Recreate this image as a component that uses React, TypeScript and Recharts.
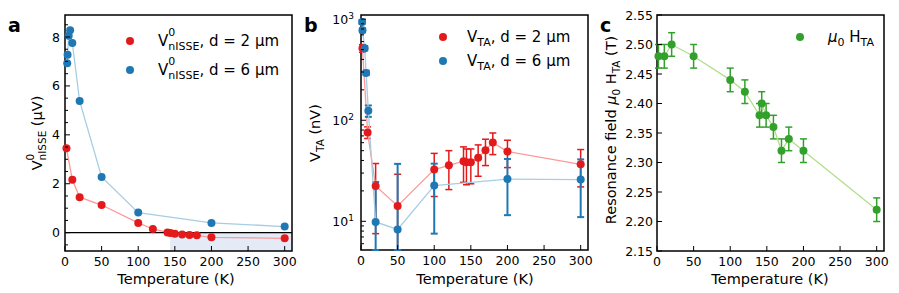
import { ErrorBar, Line, LineChart, ReferenceArea, ReferenceLine, XAxis, YAxis } from "recharts";

const FONT = "'DejaVu Sans', Verdana, sans-serif";

const RED = "#e31a1c";
const RED_LINE = "#fb9a99";
const BLUE = "#1f78b4";
const BLUE_LINE = "#a6cee3";
const GREEN = "#33a02c";
const GREEN_LINE = "#b2df8a";

// panel a: V0_nISSE (µV) vs temperature
const tempA2 = [2, 10, 20, 50, 100, 120, 140, 144, 150, 160, 170, 180, 200, 300];
const voltA2 = [3.45, 2.16, 1.45, 1.13, 0.4, 0.15, 0.01, -0.01, -0.04, -0.08, -0.1, -0.11, -0.19, -0.23];
const tempA6 = [3, 3.5, 5, 7, 10, 20, 50, 100, 200, 300];
const voltA6 = [6.93, 7.27, 8.05, 8.28, 7.76, 5.38, 2.28, 0.82, 0.4, 0.25];

// panel b: V_TA (nV), with lower / upper error bounds (5.2 = runs off the bottom)
const tempB2 = [2, 9, 20, 50, 100, 120, 140, 144, 150, 160, 170, 180, 200, 300];
const vtaB2 = [515, 75.5, 22.4, 14.2, 32.5, 35.8, 39.3, 38.5, 38.5, 42.6, 50.5, 60.1, 49, 36.6];
const lowB2 = [470, 66, 7.55, 5.2, 17.6, 20.6, 24.3, 23, 23.5, 27.9, 35.6, 45.7, 34, 21.9];
const highB2 = [560, 86, 37.3, 29.2, 47, 50, 54.5, 52, 52, 57, 64.9, 74.8, 63.4, 51.3];
const tempB6 = [1.5, 2, 5, 7, 10, 20, 50, 100, 200, 300];
const vtaB6 = [940, 778, 515, 294, 124, 9.85, 8.3, 22.6, 26.2, 25.9];
const lowB6 = [900, 740, 490, 280, 108, 5.2, 5.2, 7.55, 11.5, 11];
const highB6 = [980, 815, 540, 310, 140, 24.5, 37, 37.2, 41.4, 41];

// panel c: resonance field (T)
const tempC = [2, 10, 20, 50, 100, 120, 140, 143, 149, 159, 170, 180, 200, 300];
const fieldC = [2.48, 2.48, 2.5, 2.48, 2.44, 2.42, 2.38, 2.4, 2.38, 2.36, 2.32, 2.34, 2.32, 2.22];
const fieldErrC = [0.02, 0.02, 0.02, 0.02, 0.02, 0.02, 0.02, 0.02, 0.02, 0.02, 0.02, 0.02, 0.02, 0.02];

// ticks
const tempTicks = [0, 50, 100, 150, 200, 250, 300];
const ticksA = [-0.5, 0, 0.5, 1, 1.5, 2, 2.5, 3, 3.5, 4, 4.5, 5, 5.5, 6, 6.5, 7, 7.5, 8, 8.5];
const majorA = [0, 2, 4, 6, 8];
const ticksB = [6, 7, 8, 9, 10, 20, 30, 40, 50, 60, 70, 80, 90, 100, 200, 300, 400, 500, 600, 700, 800, 900, 1000];
const ticksC = [2.15, 2.2, 2.25, 2.3, 2.35, 2.4, 2.45, 2.5, 2.55];

const rowsA2 = tempA2.map((T, i) => ({ T, v: voltA2[i] }));
const rowsA6 = tempA6.map((T, i) => ({ T, v: voltA6[i] }));
const rowsB2 = tempB2.map((T, i) => ({ T, v: vtaB2[i], err: [vtaB2[i] - lowB2[i], highB2[i] - vtaB2[i]] }));
const rowsB6 = tempB6.map((T, i) => ({ T, v: vtaB6[i], err: [vtaB6[i] - lowB6[i], highB6[i] - vtaB6[i]] }));
const rowsC = tempC.map((T, i) => ({ T, v: fieldC[i], err: fieldErrC[i] }));

const tickText = { fontFamily: FONT, fontSize: 12.5, fill: "#000" };

const xTick = (p: any) => (
  <g>
    <line x1={p.x} x2={p.x} y1={p.y} y2={p.y - 5} stroke="#000" />
    <text x={p.x} y={p.y + 15} textAnchor="middle" {...tickText}>
      {p.payload.value}
    </text>
  </g>
);

const yTickA = (p: any) => {
  const v = p.payload.value;
  const major = majorA.includes(v);
  return (
    <g>
      <line x1={p.x} x2={p.x + (major ? 5 : 3)} y1={p.y} y2={p.y} stroke="#000" />
      {major && (
        <text x={p.x - 5} y={p.y} dy="0.36em" textAnchor="end" {...tickText}>
          {v}
        </text>
      )}
    </g>
  );
};

const yTickB = (p: any) => {
  const v = p.payload.value;
  const exp = Math.log10(v);
  const major = Math.abs(exp - Math.round(exp)) < 1e-9;
  return (
    <g>
      <line x1={p.x} x2={p.x + (major ? 5 : 3)} y1={p.y} y2={p.y} stroke="#000" />
      {major && (
        <text x={p.x - 7} y={p.y} dy="0.36em" textAnchor="end" {...tickText}>
          10
          <tspan dy={-5} fontSize={9}>
            {Math.round(exp)}
          </tspan>
        </text>
      )}
    </g>
  );
};

const yTickC = (p: any) => (
  <g>
    <line x1={p.x} x2={p.x + 5} y1={p.y} y2={p.y} stroke="#000" />
    <text x={p.x - 4} y={p.y} dy="0.36em" textAnchor="end" {...tickText}>
      {p.payload.value.toFixed(2)}
    </text>
  </g>
);

const AXIS_H = 30;
const AXIS_W = 50;

function xAxisProps() {
  return {
    dataKey: "T",
    type: "number" as const,
    domain: [0, 310],
    allowDataOverflow: true,
    ticks: tempTicks,
    interval: 0 as const,
    tick: xTick,
    tickLine: false,
    axisLine: false,
    tickSize: 0,
    tickMargin: 0,
    height: AXIS_H,
  };
}

const dotStyle = (fill: string) => ({ r: 4, fill, stroke: "none", fillOpacity: 1, clipDot: false });

function PanelA() {
  return (
    <LineChart width={300} height={293} margin={{ top: 15, right: 8, bottom: 42 - AXIS_H, left: 65 - AXIS_W }}>
      <XAxis {...xAxisProps()} />
      <YAxis
        type="number"
        domain={[-0.75, 8.9]}
        allowDataOverflow
        ticks={ticksA}
        interval={0}
        tick={yTickA}
        tickLine={false}
        axisLine={false}
        tickSize={0}
        tickMargin={0}
        width={AXIS_W}
      />
      <ReferenceArea x1={143.5} x2={310} y1={-0.75} y2={0} fill="#e4eaf6" fillOpacity={1} stroke="none" />
      <ReferenceLine y={0} stroke="#000" strokeWidth={1.3} />
      <Line data={rowsA2} dataKey="v" type="linear" stroke={RED_LINE} strokeWidth={1.3} dot={dotStyle(RED)} activeDot={false} isAnimationActive={false} />
      <Line data={rowsA6} dataKey="v" type="linear" stroke={BLUE_LINE} strokeWidth={1.3} dot={dotStyle(BLUE)} activeDot={false} isAnimationActive={false} />
      <ReferenceArea x1={0} x2={310} y1={-0.75} y2={8.9} fill="none" fillOpacity={0} stroke="#000" strokeWidth={1.5} ifOverflow="visible" />
    </LineChart>
  );
}

function PanelB() {
  return (
    <LineChart width={300} height={293} margin={{ top: 15, right: 12, bottom: 43 - AXIS_H, left: 61 - AXIS_W }}>
      <XAxis {...xAxisProps()} />
      <YAxis
        type="number"
        scale="log"
        domain={[5.2, 1100]}
        allowDataOverflow
        ticks={ticksB}
        interval={0}
        tick={yTickB}
        tickLine={false}
        axisLine={false}
        tickSize={0}
        tickMargin={0}
        width={AXIS_W}
      />
      <Line data={rowsB2} dataKey="v" type="linear" stroke={RED_LINE} strokeWidth={1.3} dot={dotStyle(RED)} activeDot={false} isAnimationActive={false}>
        <ErrorBar dataKey="err" direction="y" width={3.5} stroke={RED} strokeWidth={1.5} />
      </Line>
      <Line data={rowsB6} dataKey="v" type="linear" stroke={BLUE_LINE} strokeWidth={1.3} dot={dotStyle(BLUE)} activeDot={false} isAnimationActive={false}>
        <ErrorBar dataKey="err" direction="y" width={3.5} stroke={BLUE} strokeWidth={2} />
      </Line>
      <ReferenceArea x1={0} x2={310} y1={5.2} y2={1100} fill="none" fillOpacity={0} stroke="#000" strokeWidth={1.5} ifOverflow="visible" />
    </LineChart>
  );
}

function PanelC() {
  return (
    <LineChart width={299} height={293} margin={{ top: 15, right: 15, bottom: 42 - AXIS_H, left: 57 - AXIS_W }}>
      <XAxis {...xAxisProps()} />
      <YAxis
        type="number"
        domain={[2.15, 2.55]}
        allowDataOverflow
        ticks={ticksC}
        interval={0}
        tick={yTickC}
        tickLine={false}
        axisLine={false}
        tickSize={0}
        tickMargin={0}
        width={AXIS_W}
      />
      <Line data={rowsC} dataKey="v" type="linear" stroke={GREEN_LINE} strokeWidth={1.3} dot={dotStyle(GREEN)} activeDot={false} isAnimationActive={false}>
        <ErrorBar dataKey="err" direction="y" width={3.5} stroke={GREEN} strokeWidth={1.5} />
      </Line>
      <ReferenceArea x1={0} x2={310} y1={2.15} y2={2.55} fill="none" fillOpacity={0} stroke="#000" strokeWidth={1.5} ifOverflow="visible" />
    </LineChart>
  );
}

function Overlay() {
  const title = { fontFamily: FONT, fontSize: 14.5, fill: "#000" };
  const leg = { fontFamily: FONT, fontSize: 15, fill: "#000" };
  const letter = { fontFamily: FONT, fontSize: 19, fontWeight: 700, fill: "#000" };
  return (
    <svg width={899} height={293} style={{ position: "absolute", left: 0, top: 0, pointerEvents: "none" }}>
      <text x={8} y={32} {...letter}>a</text>
      <text x={304} y={32} {...letter}>b</text>
      <text x={600} y={32} {...letter}>c</text>

      <text x={176} y={284} textAnchor="middle" {...title}>Temperature (K)</text>
      <text x={475} y={284} textAnchor="middle" {...title}>Temperature (K)</text>
      <text x={770} y={284} textAnchor="middle" {...title}>Temperature (K)</text>

      <text transform="translate(42,133) rotate(-90)" textAnchor="middle" {...title}>
        V<tspan dy={-8} fontSize={10.5}>0</tspan>
        <tspan dx={-6.7} dy={12} fontSize={10.5}>nISSE</tspan>
        <tspan dy={-4}> (µV)</tspan>
      </text>
      <text transform="translate(320,133) rotate(-90)" textAnchor="middle" {...title}>
        V<tspan dy={4} fontSize={10.5}>TA</tspan>
        <tspan dy={-4}> (nV)</tspan>
      </text>
      <text transform="translate(616,130) rotate(-90)" textAnchor="middle" {...title}>
        Resonance field <tspan fontStyle="italic">μ</tspan>
        <tspan dy={4} fontSize={10.5}>0</tspan>
        <tspan dy={-4}> H</tspan>
        <tspan dy={4} fontSize={10.5}>TA</tspan>
        <tspan dy={-4}> (T)</tspan>
      </text>

      <circle cx={130} cy={41} r={4} fill={RED} />
      <text x={158} y={46} {...leg}>
        V<tspan dy={-10} fontSize={11}>0</tspan>
        <tspan dx={-7} dy={14} fontSize={11}>nISSE</tspan>
        <tspan dy={-4}>, d = 2 µm</tspan>
      </text>
      <circle cx={130} cy={70} r={4} fill={BLUE} />
      <text x={158} y={75} {...leg}>
        V<tspan dy={-10} fontSize={11}>0</tspan>
        <tspan dx={-7} dy={14} fontSize={11}>nISSE</tspan>
        <tspan dy={-4}>, d = 6 µm</tspan>
      </text>

      <circle cx={443} cy={37} r={4} fill={RED} />
      <text x={467} y={42} {...leg}>
        V<tspan dy={4} fontSize={11}>TA</tspan>
        <tspan dy={-4}>, d = 2 µm</tspan>
      </text>
      <circle cx={443} cy={61} r={4} fill={BLUE} />
      <text x={467} y={66} {...leg}>
        V<tspan dy={4} fontSize={11}>TA</tspan>
        <tspan dy={-4}>, d = 6 µm</tspan>
      </text>

      <circle cx={800} cy={37} r={4} fill={GREEN} />
      <text x={828} y={42} {...leg}>
        <tspan fontStyle="italic">μ</tspan>
        <tspan dy={4} fontSize={11}>0</tspan>
        <tspan dy={-4}> H</tspan>
        <tspan dy={4} fontSize={11}>TA</tspan>
      </text>
    </svg>
  );
}

export default function App() {
  return (
    <div style={{ position: "absolute", left: 0, top: 0, width: 899, height: 293, background: "#fff", overflow: "hidden" }}>
      <div style={{ position: "absolute", left: 0, top: 0 }}>
        <PanelA />
      </div>
      <div style={{ position: "absolute", left: 300, top: 0 }}>
        <PanelB />
      </div>
      <div style={{ position: "absolute", left: 600, top: 0 }}>
        <PanelC />
      </div>
      <Overlay />
    </div>
  );
}
